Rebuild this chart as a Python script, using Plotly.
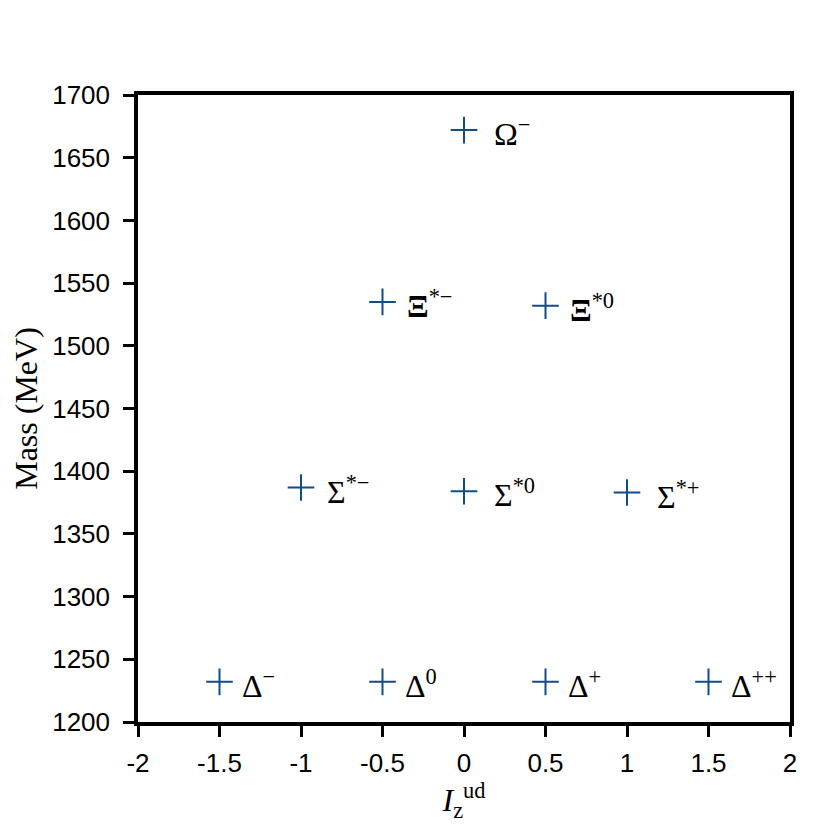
import plotly.graph_objects as go

iz = [0, -0.5, 0.5, -1, 0, 1, -1.5, -0.5, 0.5, 1.5]
mass = [1672, 1535, 1532, 1387, 1384, 1383, 1232, 1232, 1232, 1232]
names = ["Ω<sup>−</sup>", "<b>Ξ</b><sup>*−</sup>", "<b>Ξ</b><sup>*0</sup>",
         "Σ<sup>*−</sup>", "Σ<sup>*0</sup>", "Σ<sup>*+</sup>",
         "Δ<sup>−</sup>", "Δ<sup>0</sup>", "Δ<sup>+</sup>", "Δ<sup>++</sup>"]
xticks = [-2, -1.5, -1, -0.5, 0, 0.5, 1, 1.5, 2]
xticklabels = ["-2", "-1.5", "-1", "-0.5", "0", "0.5", "1", "1.5", "2"]
yticks = [1200, 1250, 1300, 1350, 1400, 1450, 1500, 1550, 1600, 1650, 1700]

fig = go.Figure()
fig.add_trace(go.Scatter(
    x=iz, y=mass, mode="markers",
    marker=dict(symbol="cross-thin", size=19, line=dict(width=2, color="#0f4c8a")),
    hoverinfo="skip", showlegend=False))

shifts = [28, 22, 22, 24, 28, 28, 20, 20, 20, 20]
for x, y, n, s in zip(iz, mass, names, shifts):
    fig.add_annotation(x=x, y=y, text=n, showarrow=False, xanchor="left",
                       yanchor="middle", xshift=s, yshift=-2,
                       font=dict(family="Liberation Serif", size=32, color="black"))

axis_common = dict(showline=True, linewidth=3.5, linecolor="black", mirror=True,
                   ticks="outside", ticklen=11, tickwidth=3, tickcolor="black",
                   showgrid=False, zeroline=False,
                   tickfont=dict(family="Liberation Sans", size=26, color="black"))

fig.update_layout(
    width=830, height=830, plot_bgcolor="white", paper_bgcolor="white",
    margin=dict(l=127, r=48, t=87, b=116),
    xaxis=dict(range=[-2, 2], tickvals=xticks, ticktext=xticklabels,
               ticklabelstandoff=4,
               title=dict(text="<i>I</i><sub>z</sub><sup>ud</sup>", standoff=2,
                          font=dict(family="Liberation Serif", size=32, color="black")),
               **axis_common),
    yaxis=dict(range=[1200, 1700], tickvals=yticks, ticklabelstandoff=8,
               title=dict(text="Mass (MeV)", standoff=10,
                          font=dict(family="Liberation Serif", size=32, color="black")),
               **axis_common),
)
fig.write_html("out.html")
